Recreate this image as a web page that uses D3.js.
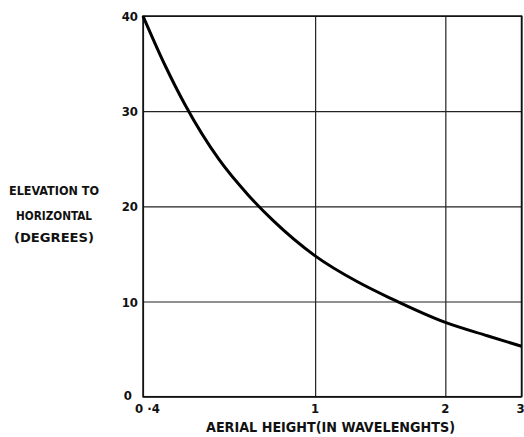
<!DOCTYPE html>
<html lang="en">
<head>
<meta charset="UTF-8">
<title>Elevation vs aerial height</title>
<script src="https://cdnjs.cloudflare.com/ajax/libs/d3/7.8.5/d3.min.js"></script>
<style>
    body { margin: 0; background: #fff; }
    svg { display: block; }
    .lbl { font-family: "DejaVu Sans Condensed", "DejaVu Sans", sans-serif; font-weight: bold; fill: #111; }
    .grid line, .grid path { stroke: #222; stroke-width: 1.2; fill: none; }
</style>
</head>
<body>
<script>
    // aerial height in wavelengths, elevation in degrees
    var heights = [0.4, 0.45, 0.5, 0.6, 0.7, 0.8, 1, 1.25, 1.5, 2, 2.5, 3];
    var elevations = [40, 34.8, 30.7, 24.9, 21.2, 18.5, 14.8, 12.1, 10.3, 7.8, 6.4, 5.3];

    var xTicks = [0.4, 1, 2, 3];
    var xTickLabels = ["0 \u00b74", "1", "2", "3"];
    var yTicks = [0, 10, 20, 30, 40];

    var W = 524, H = 437;
    var margin = { top: 16, right: 2.5, bottom: 40.3, left: 143 };
    var width = W - margin.left - margin.right,
        height = H - margin.top - margin.bottom;

    var svg = d3.select("body").append("svg")
        .attr("width", W).attr("height", H);
    var g = svg.append("g")
        .attr("transform", "translate(" + margin.left + "," + margin.top + ")");

    var x = d3.scaleLog().domain([0.4, 3]).range([0, width]);
    var y = d3.scaleLinear().domain([0, 40]).range([height, 0]);

    // grid
    g.append("g").attr("class", "grid")
        .attr("transform", "translate(0," + height + ")")
        .call(d3.axisBottom(x).tickValues(xTicks).tickSize(-height).tickFormat(""))
        .call(function(s) { s.select(".domain").remove(); });
    g.append("g").attr("class", "grid")
        .call(d3.axisLeft(y).tickValues(yTicks).tickSize(-width).tickFormat(""))
        .call(function(s) { s.select(".domain").remove(); });
    g.append("rect")
        .attr("width", width).attr("height", height)
        .attr("fill", "none").attr("stroke", "#111").attr("stroke-width", 1.5);

    // tick labels
    g.selectAll(".ylab").data(yTicks).enter().append("text")
        .attr("class", "lbl")
        .attr("x", function(d) { return d === 0 ? -11 : -5; })
        .attr("y", function(d) { return d === 0 ? y(d) + 3 : y(d) + 5; })
        .attr("text-anchor", "end")
        .style("font-size", "13px")
        .text(function(d) { return d; });
    g.selectAll(".xlab").data(xTicks).enter().append("text")
        .attr("class", "lbl")
        .attr("x", function(d) { return x(d); })
        .attr("y", height + 16.5)
        .attr("text-anchor", function(d, i) { return i === 0 ? "start" : "middle"; })
        .attr("dx", function(d, i) { return i === 0 ? -8 : (i === 3 ? -1 : 0); })
        .style("font-size", "13px")
        .text(function(d, i) { return xTickLabels[i]; });

    // curve
    var line = d3.line()
        .x(function(d, i) { return x(heights[i]); })
        .y(function(d) { return y(d); })
        .curve(d3.curveMonotoneX);
    g.append("path")
        .datum(elevations)
        .attr("d", line)
        .attr("fill", "none")
        .attr("stroke", "#000")
        .attr("stroke-width", 3);

    // axis titles
    var yTitle = ["ELEVATION TO", "HORIZONTAL", "(DEGREES)"];
    var yTitleY = [195, 220, 242];
    var yTitleW = [90, 76, 80];
    svg.selectAll(".ytitle").data(yTitle).enter().append("text")
        .attr("class", "lbl")
        .attr("x", function(d, i) { return 54 - yTitleW[i] / 2; })
        .attr("y", function(d, i) { return yTitleY[i]; })
        .attr("textLength", function(d, i) { return yTitleW[i]; })
        .attr("lengthAdjust", "spacingAndGlyphs")
        .style("font-size", function(d, i) { return i === 2 ? "13px" : "12.5px"; })
        .text(function(d) { return d; });

    svg.append("text")
        .attr("class", "lbl")
        .attr("x", 206)
        .attr("y", 432)
        .attr("textLength", 249)
        .attr("lengthAdjust", "spacingAndGlyphs")
        .style("font-size", "14px")
        .text("AERIAL HEIGHT(IN WAVELENGHTS)");
</script>
</body>
</html>
